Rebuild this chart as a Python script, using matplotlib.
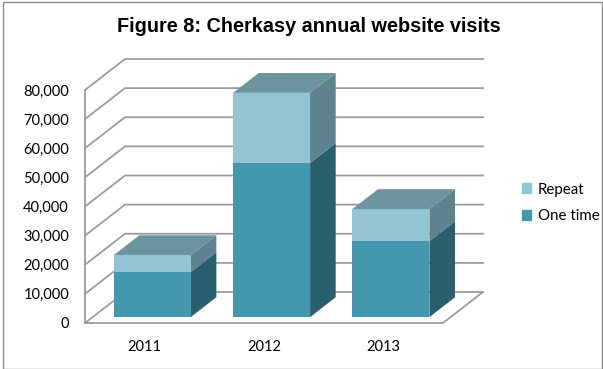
import matplotlib.pyplot as plt
import numpy as np
from matplotlib.patches import Polygon, Rectangle, Patch

years = ['2011', '2012', '2013']
one_time = [15500, 52900, 26100]
repeat = [5800, 24100, 11000]
yticks = np.arange(0, 80001, 10000)

# colours: front, side, top
c_one = '#4398AF'
c_one_side = '#2A5F6E'
c_rep = '#93C4D4'
c_rep_side = '#5E838E'
c_top = '#6B949F'
grid_c = '#9c9c9c'

W, H = 603, 369
fig = plt.figure(figsize=(W / 100, H / 100), dpi=100)
ax = fig.add_axes([85 / W, (H - 323) / H, (443 - 85) / W, (323 - 90) / H])
ax.set_xlim(-0.5, 2.5)
ax.set_ylim(0, 80000)

# depth of the box in pixels, turned into data units
p0 = ax.transData.transform((0, 0))
p1 = ax.transData.transform((1, 10000))
sx = p1[0] - p0[0]
sy = (p1[1] - p0[1]) / 10000
DX = 40 / sx
DY = 31 / sy


def proj(x, y, z):
    return (x + z * DX, y + z * DY)


# walls and floor
for v in yticks:
    a = proj(-0.5, v, 0)
    b = proj(-0.5, v, 1)
    c = proj(2.5, v, 1)
    ax.plot([a[0], b[0], c[0]], [a[1], b[1], c[1]], color=grid_c, lw=1.3,
            clip_on=False, zorder=1)
ax.plot([-0.5, -0.5], [0, 80000], color=grid_c, lw=1.3, clip_on=False, zorder=1)
fr = proj(2.5, 0, 1)
ax.plot([-0.5, 2.5, fr[0]], [0, 0, fr[1]], color=grid_c, lw=1.3,
        clip_on=False, zorder=1)

# 3d stacked columns
w = 0.645
z0, z1 = 0.19, 0.83
x = np.arange(len(years))
xf = x + z0 * DX
base = z0 * DY
ax.bar(xf, one_time, w, bottom=base, color=c_one, zorder=3, clip_on=False)
ax.bar(xf, repeat, w, bottom=base + np.array(one_time), color=c_rep, zorder=3,
       clip_on=False)

for i in range(len(years)):
    xr = x[i] + w / 2
    xl = x[i] - w / 2
    segs = [(0, one_time[i], c_one_side),
            (one_time[i], one_time[i] + repeat[i], c_rep_side)]
    for lo, hi, col in segs:
        pts = [proj(xr, lo, z0), proj(xr, lo, z1), proj(xr, hi, z1), proj(xr, hi, z0)]
        ax.add_patch(Polygon(pts, closed=True, color=col, lw=0, zorder=2,
                             clip_on=False))
    top = one_time[i] + repeat[i]
    pts = [proj(xl, top, z0), proj(xl, top, z1), proj(xr, top, z1), proj(xr, top, z0)]
    ax.add_patch(Polygon(pts, closed=True, color=c_top, lw=0, zorder=2,
                         clip_on=False))

ax.set_yticks(yticks)
ax.set_yticklabels([f'{v:,}' for v in yticks])
ax.set_xticks(x)
ax.set_xticklabels(years)
ax.tick_params(length=0, labelsize=10.5, colors='black')
ax.tick_params(axis='y', pad=11.5)
ax.tick_params(axis='x', pad=12.5)
for lab in ax.get_xticklabels() + ax.get_yticklabels():
    lab.set_family('Lato')
for s in ax.spines.values():
    s.set_visible(False)
ax.patch.set_visible(False)

handles = [Patch(color=c_rep), Patch(color=c_one)]
leg = fig.legend(handles, ['Repeat', 'One time'], loc='center left',
                 bbox_to_anchor=(522 / W, 1 - 203 / H), frameon=False,
                 borderpad=0, borderaxespad=0, handlelength=0.62,
                 handleheight=0.62, handletextpad=0.45, labelspacing=0.85,
                 prop={'family': 'Lato', 'size': 10.8})

fig.text(309 / W, 1 - 26 / H, 'Figure 8: Cherkasy annual website visits',
         ha='center', va='center', fontsize=14.3, fontweight='bold',
         family='Liberation Sans')

fig.patches.append(Rectangle((3.5 / W, 0.5 / H), 598 / W, 367 / H,
                             transform=fig.transFigure, fill=False,
                             edgecolor='#8c8c8c', lw=1))

fig.savefig('out.png', dpi=100)
